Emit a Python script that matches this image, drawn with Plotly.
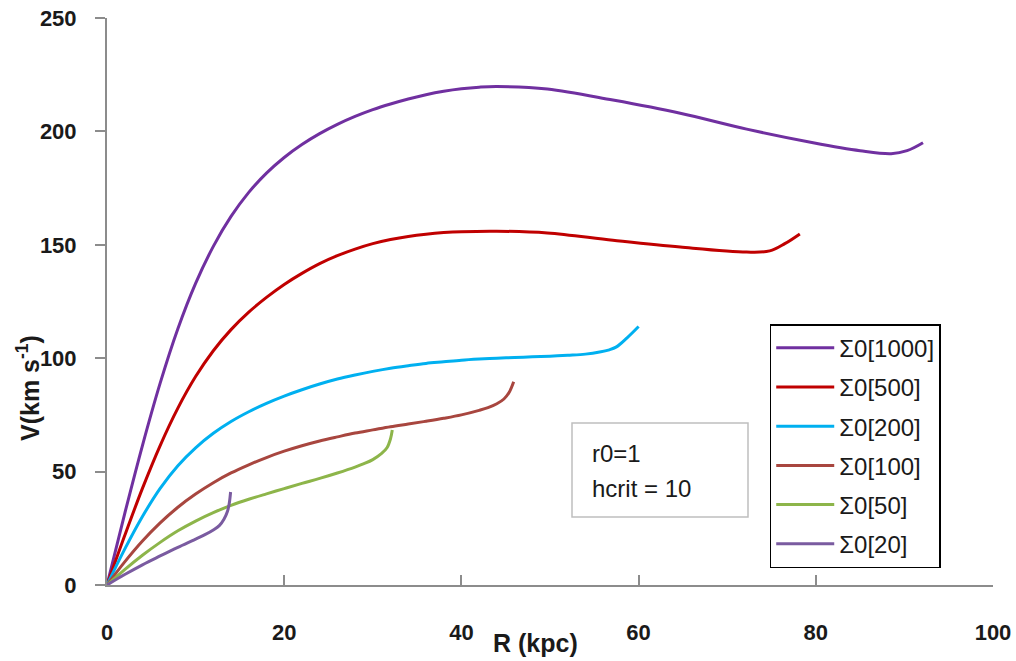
import plotly.graph_objects as go

# Data
R_1000 = [0, 2, 4, 6, 8, 10, 12, 14, 16, 18, 20, 22, 24, 26, 28, 30, 32, 34, 36, 38, 40, 42, 44,
          49.7, 57.1, 64.7, 72.2, 79.7, 85, 88.5, 90.3, 92.1]
V_1000 = [0, 31.5, 61.5, 89, 113, 133, 149.3, 162.5, 173.1, 181.6, 188.5, 194.2, 199, 203.1, 206.6, 209.6,
          212.1, 214.3, 216.2, 217.7, 218.8, 219.5, 219.8,
          218.7, 213.8, 208, 201, 195, 191.5, 190.2, 191.5, 195]

R_500 = [0, 2, 4, 6, 8, 10, 12, 14, 16, 18, 20, 22, 24, 26, 28, 30, 32, 34, 36, 38, 40, 44,
         49.7, 57.1, 64.7, 72.2, 74.8, 76.5, 78.2]
V_500 = [0, 21.8, 42.6, 61.5, 78, 91.9, 103.3, 112.6, 120.3, 126.8, 132.5, 137.4, 141.7, 145.2, 148.1,
         150.5, 152.3, 153.7, 154.7, 155.4, 155.8, 156,
         155.2, 152, 149, 146.8, 147.3, 150.5, 154.8]

R_200 = [0, 2, 4, 6, 8, 10, 12, 14, 16, 18, 20, 22, 24, 26, 28, 30, 32, 34, 36, 38, 40, 42, 44, 46, 48,
         50, 52, 54, 55.6, 56.7, 57.5, 58.7, 60]
V_200 = [0, 15.8, 30.2, 42.6, 52.6, 60.5, 66.9, 72.1, 76.4, 80.1, 83.3, 86.1, 88.6, 90.8, 92.6, 94.2,
         95.6, 96.7, 97.7, 98.4, 99.1, 99.6, 100, 100.3, 100.6, 100.9, 101.3, 101.8, 102.7, 103.7, 105, 109, 114]

R_100 = [0, 2, 4, 6, 8, 10, 12, 14, 16, 18, 20, 22, 24, 26, 28, 30, 32, 34, 36, 38, 40, 42, 43, 44,
         44.8, 45.4, 45.9]
V_100 = [0, 10.2, 19.4, 27.4, 34.3, 40.1, 45.1, 49.4, 53, 56.2, 59, 61.4, 63.5, 65.3, 67, 68.4, 69.8,
         71, 72.2, 73.5, 75, 77, 78.2, 79.9, 82, 85, 89.6]

R_50 = [0, 2, 4, 6, 8, 10, 12, 14, 16, 18, 20, 22, 24, 26, 28, 29, 30, 31, 31.6, 32, 32.2]
V_50 = [0, 6.8, 13.1, 18.8, 23.9, 28.2, 31.9, 35.1, 37.8, 40.2, 42.5, 44.8, 47, 49.4, 52, 53.5, 55.3,
        58, 60.5, 64.5, 68.3]

R_20 = [0, 2, 4, 6, 8, 10, 11, 12, 12.7, 13.2, 13.6, 13.8, 13.95]
V_20 = [0, 4.6, 8.9, 12.8, 16.6, 20.2, 22.1, 24.3, 26.3, 29, 32.5, 36, 41]

series_names = ["Σ0[1000]", "Σ0[500]", "Σ0[200]", "Σ0[100]", "Σ0[50]", "Σ0[20]"]
series_colors = ["#7030A0", "#C00000", "#00B0F0", "#A8463F", "#8DB54A", "#7A5BA0"]
series_R = [R_1000, R_500, R_200, R_100, R_50, R_20]
series_V = [V_1000, V_500, V_200, V_100, V_50, V_20]

x_ticks = [0, 20, 40, 60, 80, 100]
y_ticks = [0, 50, 100, 150, 200, 250]

fig = go.Figure()
for i, (name, col, rr, vv) in enumerate(zip(series_names, series_colors, series_R, series_V)):
    fig.add_trace(go.Scatter(
        x=rr, y=vv, mode="lines", name=name, legendgroup=f"g{i}",
        line=dict(color=col, width=3, shape="spline", smoothing=1.0),
    ))

axis_col = "#8C8C8C"
tick_font = dict(family="Liberation Sans", size=22, color="#1a1a1a")

fig.update_layout(
    width=1016, height=661,
    margin=dict(l=107, r=23, t=18, b=76, autoexpand=False),
    paper_bgcolor="white", plot_bgcolor="white",
    showlegend=True,
    legend=dict(
        x=0.748, y=0.46, xanchor="left", yanchor="top",
        bordercolor="#000000", borderwidth=1.5, bgcolor="white",
        font=dict(family="Liberation Sans", size=24, color="#1a1a1a"),
        tracegroupgap=5, traceorder="grouped", itemwidth=58,
    ),
    xaxis=dict(
        range=[0, 100], tickvals=x_ticks, ticktext=[f"<b>{t}</b>" for t in x_ticks],
        showgrid=False, zeroline=False, showline=True, linecolor=axis_col, linewidth=2,
        ticks="inside", ticklen=10, tickcolor=axis_col, tickwidth=2,
        tickfont=tick_font, ticklabelstandoff=27, automargin=False,
    ),
    yaxis=dict(
        range=[0, 250], tickvals=y_ticks, ticktext=[f"<b>{t}</b>" for t in y_ticks],
        showgrid=False, zeroline=False, showline=True, linecolor=axis_col, linewidth=2,
        ticks="outside", ticklen=10, tickcolor=axis_col, tickwidth=2,
        tickfont=tick_font, ticklabelstandoff=14, automargin=False,
    ),
)

# Annotation box
fig.add_shape(type="rect", xref="paper", yref="paper",
              x0=(572 - 107) / 886, x1=(748 - 107) / 886,
              y0=(585 - 517) / 567, y1=(585 - 423) / 567,
              line=dict(color="#BFBFBF", width=1.5), fillcolor="white", layer="above")
fig.add_annotation(xref="paper", yref="paper", x=(590 - 107) / 886, y=(585 - 453) / 567,
                   text="r0=1", showarrow=False, xanchor="left", yanchor="middle",
                   font=dict(family="Liberation Sans", size=24, color="#1a1a1a"))
fig.add_annotation(xref="paper", yref="paper", x=(590 - 107) / 886, y=(585 - 488) / 567,
                   text="hcrit = 10", showarrow=False, xanchor="left", yanchor="middle",
                   font=dict(family="Liberation Sans", size=24, color="#1a1a1a"))

# Axis titles
fig.add_annotation(xref="paper", yref="paper", x=(535 - 107) / 886, y=(585 - 643) / 567,
                   text="<b>R (kpc)</b>", showarrow=False, xanchor="center", yanchor="middle",
                   font=dict(family="Liberation Sans", size=25, color="#1a1a1a"))
fig.add_annotation(xref="paper", yref="paper", x=(28 - 107) / 886, y=(585 - 388) / 567,
                   text="<b>V(km s<sup>-1</sup>)</b>", showarrow=False, textangle=-90,
                   xanchor="center", yanchor="middle",
                   font=dict(family="Liberation Sans", size=25, color="#1a1a1a"))

fig.write_html("out.html")
